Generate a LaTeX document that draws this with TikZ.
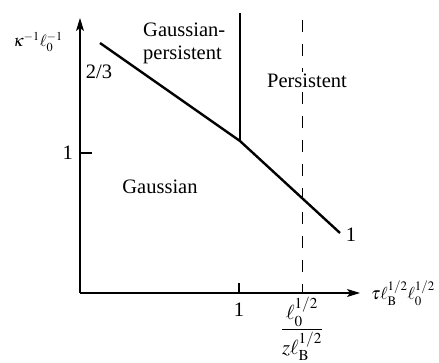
\documentclass[tikz,border=0pt]{standalone}
\usepackage{mathptmx}
\usepackage[no-math]{fontspec}
\setmainfont{Liberation Serif}
\newfontfamily\tms{Liberation Serif}
\usetikzlibrary{arrows.meta}
\begin{document}
\begin{tikzpicture}[x=1pt,y=-1pt,
  axis/.style={line width=1.1pt},
  arrowaxis/.style={axis,-{Stealth[length=13pt,width=8pt,inset=3pt]}},
  phase/.style={line width=2.4pt},
  dashline/.style={line width=1pt,dash pattern=on 12pt off 12pt},
  lbl/.style={inner sep=0pt,font=\tms\fontsize{20.5}{23}\selectfont},
  mlbl/.style={inner sep=0pt,font=\tms\fontsize{16.5}{19}\selectfont},
]
\useasboundingbox (0,0) rectangle (439,363);
% axes
\coordinate (O) at (80,293);
\coordinate (ytip) at (80,18);
\coordinate (xtip) at (360,293);
\draw[arrowaxis] (O) -- (ytip);
\draw[arrowaxis] (O) -- (xtip);
% ticks
\coordinate (yt) at (80,153);
\coordinate (yte) at (92,153);
\draw[axis] (yt) -- (yte);
\coordinate (xt) at (239,293);
\coordinate (xte) at (239,283);
\draw[axis] (xt) -- (xte);
% dashed line
\coordinate (dtop) at (302,20);
\coordinate (dbot) at (302,293);
\draw[dashline] (dtop) -- (dbot);
% phase boundaries
\coordinate (A) at (100,43);
\coordinate (K) at (240,141);
\coordinate (T) at (240,13);
\coordinate (E) at (340,233);
\draw[phase] (A) -- (K) -- (E);
\draw[phase] (T) -- (K);
% labels
\node[mlbl] (ylab) at (38,42) {$\kappa^{-1}\ell_0^{-1}$};
\node[lbl] (tt) at (99,72) {2/3};
\node[lbl,anchor=east] (y1) at (73,153) {1};
\node[lbl] (x1) at (239,310) {1};
\node[lbl] (frac) at (302,329) {$\displaystyle\frac{\ell_0^{1/2}}{z\ell_{\mathrm{B}}^{1/2}}$};
\node[mlbl,anchor=west,font=\tms\fontsize{17.5}{20}\selectfont] (xlab) at (371,293) {$\tau\ell_{\mathrm{B}}^{1/2}\ell_0^{1/2}$};
\node[lbl] (gauss) at (160,187) {Gaussian};
\node[lbl,anchor=base west] (gp1) at (143,37) {Gaussian-};
\node[lbl,anchor=base west] (gp2) at (143,60) {persistent};
\node[lbl,anchor=base,fill=white,inner sep=2pt] (pers) at (307,88) {Persistent};
\node[lbl] (one) at (351,235) {1};
\end{tikzpicture}
\end{document}
